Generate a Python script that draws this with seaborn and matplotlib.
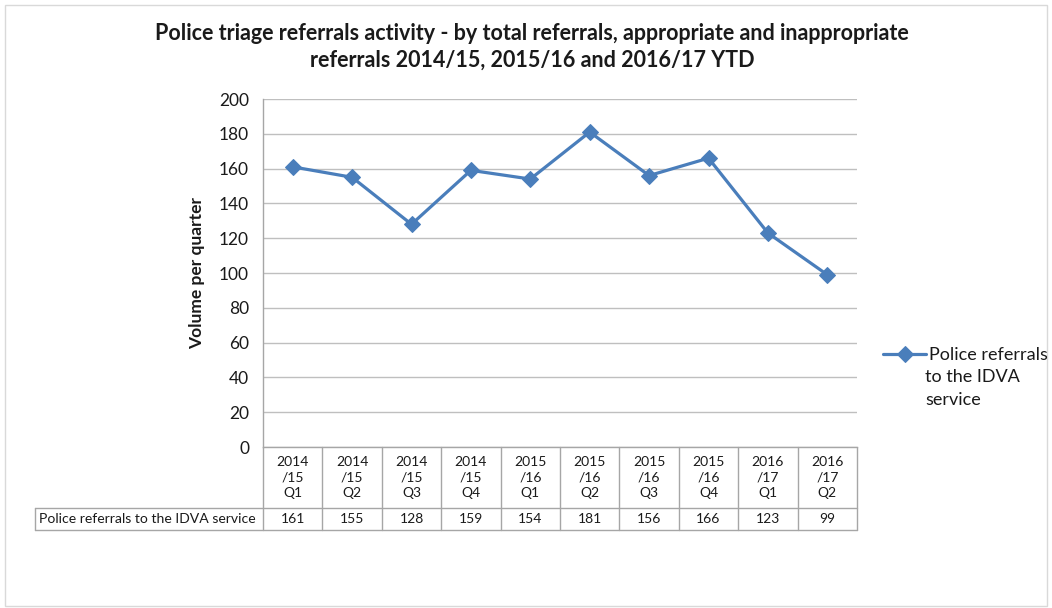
import numpy as np
import matplotlib
matplotlib.use("Agg")
import matplotlib.pyplot as plt
import matplotlib.transforms as mtransforms
import seaborn as sns
import pandas as pd

# ── Data ───────────────────────────────────────────────────────────────────
QUARTERS = ["2014\n/15\nQ1", "2014\n/15\nQ2", "2014\n/15\nQ3", "2014\n/15\nQ4",
            "2015\n/16\nQ1", "2015\n/16\nQ2", "2015\n/16\nQ3", "2015\n/16\nQ4",
            "2016\n/17\nQ1", "2016\n/17\nQ2"]
REFERRALS = [161, 155, 128, 159, 154, 181, 156, 166, 123, 99]
SERIES_NAME = "Police referrals to the IDVA service"
Y_TICKS = [0, 20, 40, 60, 80, 100, 120, 140, 160, 180, 200]

LINE_COLOR = "#4A7EBB"
GRID_COLOR = "#BFBFBF"
TEXT_COLOR = "#1a1a1a"

sns.set_style("white")
plt.rcParams["font.family"] = ["Lato", "DejaVu Sans"]

df = pd.DataFrame({"pos": np.arange(len(QUARTERS)), "value": REFERRALS})

fig = plt.figure(figsize=(10.52, 6.08), dpi=100)
fig.patch.set_facecolor("white")
ax = fig.add_axes([263 / 1052, 1 - 447 / 608, 594 / 1052, 348 / 608])

# outer chart border
fig.add_artist(plt.Rectangle((5 / 1052, 2 / 608), 1042 / 1052, 601 / 608,
                             transform=fig.transFigure, fill=False,
                             edgecolor="#D9D9D9", lw=1))

sns.lineplot(data=df, x="pos", y="value", ax=ax, color=LINE_COLOR, lw=2.3,
             marker="D", markersize=8, markeredgecolor=LINE_COLOR,
             label=SERIES_NAME, legend=False)

ax.set_xlim(-0.5, len(QUARTERS) - 0.5)
ax.set_ylim(0, 200)
ax.set_yticks(Y_TICKS)
ax.set_yticklabels([str(t) for t in Y_TICKS], fontsize=12.5, color=TEXT_COLOR)
ax.set_xticks([])
ax.set_xlabel("")
ax.set_ylabel("Volume per quarter", fontsize=12.5, fontweight="bold",
              color=TEXT_COLOR, labelpad=10)
ax.tick_params(axis="y", length=0, pad=10)
ax.grid(axis="y", color=GRID_COLOR, lw=1)
ax.set_axisbelow(True)
for side in ["top", "right"]:
    ax.spines[side].set_visible(False)
for side in ["left", "bottom"]:
    ax.spines[side].set_color("#A6A6A6")
    ax.spines[side].set_linewidth(1)

# ── Data table under the axis ──────────────────────────────────────────────
trans = mtransforms.blended_transform_factory(ax.transData, ax.transAxes)
y_mid = -61 / 348
y_bot = -83 / 348
x_left = (35 - 263) / 594
n = len(QUARTERS)
line_kw = dict(color="#A6A6A6", lw=1, clip_on=False)

for i in range(n + 1):
    ax.plot([i - 0.5, i - 0.5], [0, y_bot], transform=trans, **line_kw)
ax.plot([x_left, 1], [y_mid, y_mid], transform=ax.transAxes, **line_kw)
ax.plot([x_left, 1], [y_bot, y_bot], transform=ax.transAxes, **line_kw)
ax.plot([x_left, x_left], [y_mid, y_bot], transform=ax.transAxes, **line_kw)

for i, (lab, val) in enumerate(zip(QUARTERS, REFERRALS)):
    ax.text(i, y_mid / 2, lab, transform=trans, ha="center", va="center",
            fontsize=10, color=TEXT_COLOR, linespacing=1.35)
    ax.text(i, (y_mid + y_bot) / 2, str(val), transform=trans, ha="center",
            va="center", fontsize=10, color=TEXT_COLOR)
ax.text(x_left + 0.006, (y_mid + y_bot) / 2, SERIES_NAME, transform=ax.transAxes,
        ha="left", va="center", fontsize=10.1, color=TEXT_COLOR)

# ── Title + legend ─────────────────────────────────────────────────────────
fig.text(532 / 1052, 1 - 47 / 608,
         "Police triage referrals activity - by total referrals, appropriate and inappropriate\n"
         "referrals 2014/15, 2015/16 and 2016/17 YTD",
         ha="center", va="center", fontsize=15.5, fontweight="bold",
         color=TEXT_COLOR, linespacing=1.3)

handles, _ = ax.get_legend_handles_labels()
fig.legend(handles, ["Police referrals"],
           loc="center left", bbox_to_anchor=(874 / 1052, 1 - 355 / 608),
           frameon=False, fontsize=13, handlelength=2.4, handletextpad=0.15,
           borderpad=0, labelcolor=TEXT_COLOR)
fig.text(925 / 1052, 1 - 369 / 608, "to the IDVA\nservice", ha="left", va="top",
         fontsize=13, color=TEXT_COLOR, linespacing=1.55)

fig.savefig("out.png", dpi=100, facecolor="white")
